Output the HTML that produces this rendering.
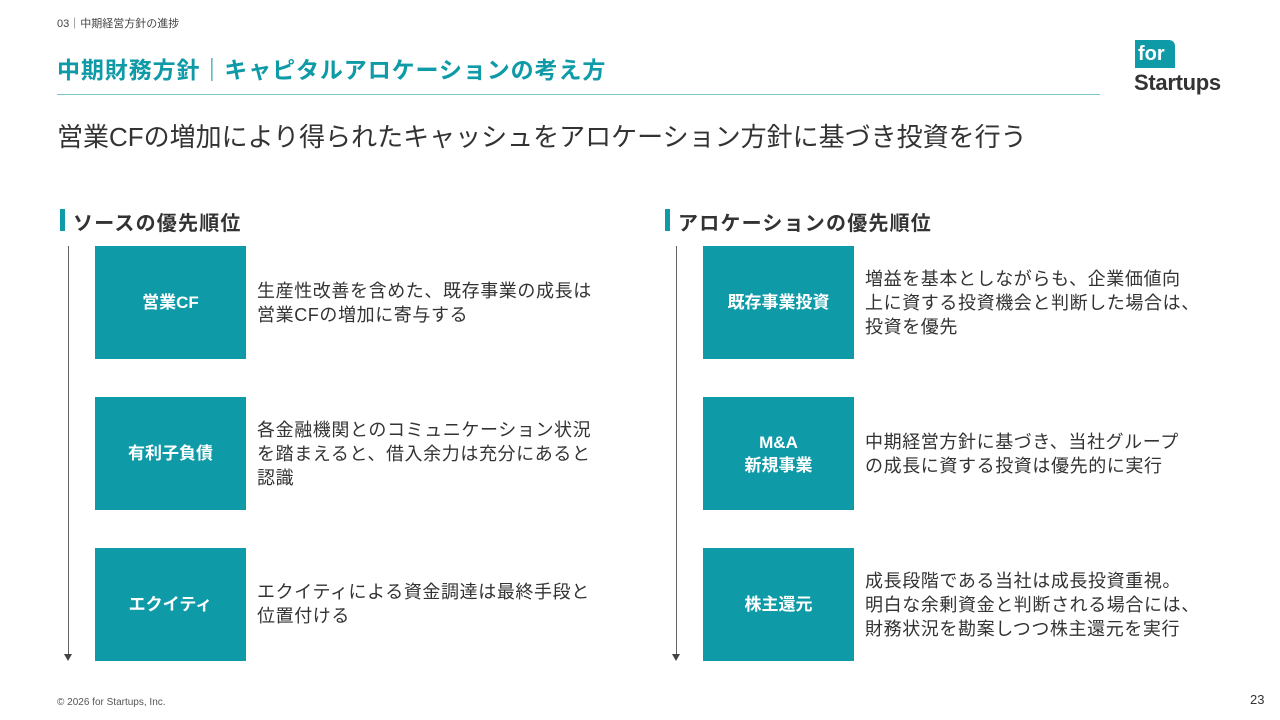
<!DOCTYPE html><html><head><meta charset="utf-8"><style>
body{margin:0;width:1280px;height:720px;background:#fff;position:relative;font-family:"Liberation Sans","Noto Sans CJK JP",sans-serif;overflow:hidden;color:#333}
.a{position:absolute}
.box{position:absolute;width:151px;height:113px;background:#0e9aa7;color:#fff;font-weight:bold;font-size:17px;display:flex;align-items:center;justify-content:center;text-align:center;line-height:23px}
.d{position:absolute;font-size:18px;letter-spacing:0.6px;line-height:24px;color:#333;white-space:nowrap}
.h{position:absolute;font-size:20px;letter-spacing:1.2px;font-weight:bold;color:#333}
.h:before{content:"";position:absolute;left:-13px;top:2px;width:5px;height:22px;background:#0e9aa7}
.line{position:absolute;width:1px;background:#666}
.arr{position:absolute;width:0;height:0;border-left:4px solid transparent;border-right:4px solid transparent;border-top:7px solid #444}
</style></head><body>
<div class="a" style="left:57px;top:15px;font-size:11px;color:#444">03｜中期経営方針の進捗</div>
<div class="a" style="left:57px;top:51px;font-size:23px;letter-spacing:0.9px;font-weight:bold;color:#0e9aa7">中期財務方針｜キャピタルアロケーションの考え方</div>
<div class="a" style="left:57px;top:94px;width:1043px;height:1px;background:#7cc6cd"></div>
<div class="a" style="left:1135px;top:40px;width:40px;height:28px;background:#0e9aa7;border-radius:0 6px 0 0;color:#fff;font-weight:bold;font-size:20px;line-height:28px;padding-left:3px;box-sizing:border-box">for</div>
<div class="a" style="left:1134px;top:70px;font-size:22px;font-weight:bold;color:#333;letter-spacing:-0.3px">Startups</div>
<div class="a" style="left:57px;top:117px;font-size:26px;letter-spacing:0px;color:#333">営業CFの増加により得られたキャッシュをアロケーション方針に基づき投資を行う</div>
<div class="h" style="left:73px;top:207px">ソースの優先順位</div>
<div class="h" style="left:678px;top:207px">アロケーションの優先順位</div>
<div class="line" style="left:68px;top:246px;height:408px"></div><div class="arr" style="left:64px;top:654px"></div>
<div class="line" style="left:676px;top:246px;height:408px"></div><div class="arr" style="left:672px;top:654px"></div>
<div class="box" style="left:95px;top:246px">営業CF</div>
<div class="box" style="left:95px;top:397px">有利子負債</div>
<div class="box" style="left:95px;top:548px">エクイティ</div>
<div class="d" style="left:257px;top:279px">生産性改善を含めた、既存事業の成長は<br>営業CFの増加に寄与する</div>
<div class="d" style="left:257px;top:418px">各金融機関とのコミュニケーション状況<br>を踏まえると、借入余力は充分にあると<br>認識</div>
<div class="d" style="left:257px;top:580px">エクイティによる資金調達は最終手段と<br>位置付ける</div>
<div class="box" style="left:703px;top:246px">既存事業投資</div>
<div class="box" style="left:703px;top:397px">M&amp;A<br>新規事業</div>
<div class="box" style="left:703px;top:548px">株主還元</div>
<div class="d" style="left:865px;top:267px">増益を基本としながらも、企業価値向<br>上に資する投資機会と判断した場合は、<br>投資を優先</div>
<div class="d" style="left:865px;top:430px">中期経営方針に基づき、当社グループ<br>の成長に資する投資は優先的に実行</div>
<div class="d" style="left:865px;top:569px">成長段階である当社は成長投資重視。<br>明白な余剰資金と判断される場合には、<br>財務状況を勘案しつつ株主還元を実行</div>
<div class="a" style="left:57px;top:697px;font-size:10px;color:#555">© 2026 for Startups, Inc.</div>
<div class="a" style="left:1250px;top:692px;font-size:13px;color:#333">23</div>
</body></html>
